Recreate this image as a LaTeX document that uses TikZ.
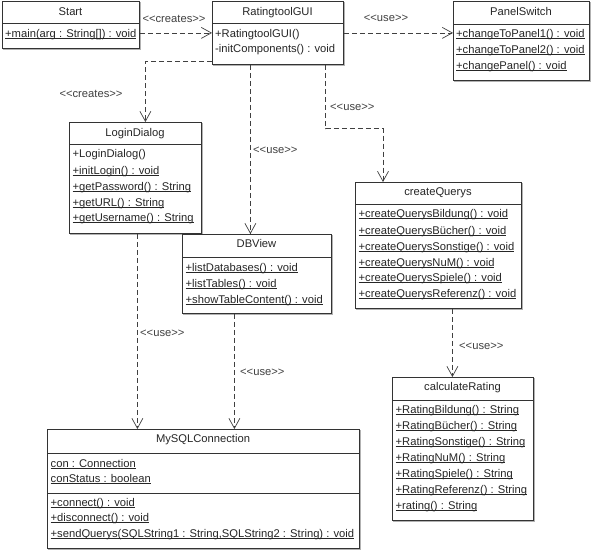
\documentclass[tikz,border=0pt]{standalone}
\usepackage{fontspec}
\setmainfont{Liberation Sans}[Ligatures=TeXOff]
\usetikzlibrary{arrows.meta,calc}
\newcommand\myul[1]{\setbox0\hbox{#1}\rlap{\rule[-1.8pt]{\wd0}{0.6pt}}\box0}
\begin{document}
\begin{tikzpicture}[x=1pt,y=-1pt,
  box/.style={draw=black!80, line width=0.8pt, fill=white, inner sep=0pt, anchor=north west},
  shad/.style={draw=black!30, line width=0.8pt},
  div/.style={draw=black!80, line width=0.8pt},
  txt/.style={anchor=base west, inner sep=0pt, text=black!85, font=\fontsize{11.2}{13}\selectfont},
  ttl/.style={anchor=base, inner sep=0pt, text=black!85, font=\fontsize{11.2}{13}\selectfont},
  lbl/.style={anchor=base, inner sep=0pt, text=black!75, font=\fontsize{11.2}{13}\selectfont},
  lblw/.style={lbl, anchor=base west},
  dep/.style={draw=black!75, line width=0.7pt, dash pattern=on 5pt off 3pt, -{Straight Barb[length=10pt,width=11pt]}}]
\useasboundingbox[fill=white] (0,0) rectangle (595,552);

% shadows
\draw[shad] (3,49) -- (140,49) -- (140,2);
\draw[shad] (213,65) -- (344,65) -- (344,2);
\draw[shad] (454,81) -- (590,81) -- (590,2);
\draw[shad] (70,234) -- (202,234) -- (202,123);
\draw[shad] (183,314) -- (332,314) -- (332,235);
\draw[shad] (356,309) -- (522,309) -- (522,183);
\draw[shad] (393,521) -- (534,521) -- (534,378);
\draw[shad] (48,549) -- (360,549) -- (360,430);

% boxes
\node[box, minimum width=137pt, minimum height=47pt] (start) at (2,1) {};
\node[box, minimum width=131pt, minimum height=63pt] (gui) at (212,1) {};
\node[box, minimum width=136pt, minimum height=79pt] (panel) at (453,1) {};
\node[box, minimum width=132pt, minimum height=111pt] (login) at (69,122) {};
\node[box, minimum width=149pt, minimum height=79pt] (dbview) at (182,234) {};
\node[box, minimum width=166pt, minimum height=126pt] (cq) at (355,182) {};
\node[box, minimum width=141pt, minimum height=143pt] (calc) at (392,377) {};
\node[box, minimum width=312pt, minimum height=119pt] (mysql) at (47,429) {};

% dividers
\draw[div] ($(start.north west)+(0,22)$) -- ($(start.north east)+(0,22)$);
\draw[div] ($(gui.north west)+(0,22)$) -- ($(gui.north east)+(0,22)$);
\draw[div] ($(panel.north west)+(0,23)$) -- ($(panel.north east)+(0,23)$);
\draw[div] ($(login.north west)+(0,22)$) -- ($(login.north east)+(0,22)$);
\draw[div] ($(dbview.north west)+(0,23)$) -- ($(dbview.north east)+(0,23)$);
\draw[div] ($(cq.north west)+(0,22)$) -- ($(cq.north east)+(0,22)$);
\draw[div] ($(calc.north west)+(0,23)$) -- ($(calc.north east)+(0,23)$);
\draw[div] ($(mysql.north west)+(0,24)$) -- ($(mysql.north east)+(0,24)$);
\draw[div] ($(mysql.north west)+(0,64)$) -- ($(mysql.north east)+(0,64)$);

% Start
\node[ttl] (start-t) at (70.5,15) {Start};
\node[txt] (start-1) at (5,37) {\myul{+main(arg : String[]) : void}};
% RatingtoolGUI
\node[ttl] (gui-t) at (277.5,15) {RatingtoolGUI};
\node[txt] (gui-1) at (215,37) {+RatingtoolGUI()};
\node[txt] (gui-2) at (215,52) {-initComponents() : void};
% PanelSwitch
\node[ttl] (panel-t) at (521,15) {PanelSwitch};
\node[txt] (panel-1) at (456,37) {\myul{+changeToPanel1() : void}};
\node[txt] (panel-2) at (456,53) {\myul{+changeToPanel2() : void}};
\node[txt] (panel-3) at (456,69) {\myul{+changePanel() : void}};
% LoginDialog
\node[ttl] (login-t) at (135,136) {LoginDialog};
\node[txt] (login-1) at (72.5,157) {+LoginDialog()};
\node[txt] (login-2) at (72.5,174) {\myul{+initLogin() : void}};
\node[txt] (login-3) at (72.5,190) {\myul{+getPassword() : String}};
\node[txt] (login-4) at (72.5,206) {\myul{+getURL() : String}};
\node[txt] (login-5) at (72.5,221) {\myul{+getUsername() : String}};
% DBView
\node[ttl] (db-t) at (256.5,247) {DBView};
\node[txt] (db-1) at (185.5,271) {\myul{+listDatabases() : void}};
\node[txt] (db-2) at (185.5,287) {\myul{+listTables() : void}};
\node[txt] (db-3) at (185.5,303) {\myul{+showTableContent() : void}};
% createQuerys
\node[ttl] (cq-t) at (438,195) {createQuerys};
\node[txt] (cq-1) at (358.5,217) {\myul{+createQuerysBildung() : void}};
\node[txt] (cq-2) at (358.5,234) {\myul{+createQuerysBücher() : void}};
\node[txt] (cq-3) at (358.5,250) {\myul{+createQuerysSonstige() : void}};
\node[txt] (cq-4) at (358.5,266) {\myul{+createQuerysNuM() : void}};
\node[txt] (cq-5) at (358.5,281) {\myul{+createQuerysSpiele() : void}};
\node[txt] (cq-6) at (358.5,297) {\myul{+createQuerysReferenz() : void}};
% calculateRating
\node[ttl] (calc-t) at (462.5,390) {calculateRating};
\node[txt] (calc-1) at (395.5,413) {\myul{+RatingBildung() : String}};
\node[txt] (calc-2) at (395.5,429) {\myul{+RatingBücher() : String}};
\node[txt] (calc-3) at (395.5,445) {\myul{+RatingSonstige() : String}};
\node[txt] (calc-4) at (395.5,461) {\myul{+RatingNuM() : String}};
\node[txt] (calc-5) at (395.5,477) {\myul{+RatingSpiele() : String}};
\node[txt] (calc-6) at (395.5,493) {\myul{+RatingReferenz() : String}};
\node[txt] (calc-7) at (395.5,509) {\myul{+rating() : String}};
% MySQLConnection
\node[ttl] (my-t) at (203,442) {MySQLConnection};
\node[txt] (my-a1) at (50.5,467) {\myul{con : Connection}};
\node[txt] (my-a2) at (50.5,482) {\myul{conStatus : boolean}};
\node[txt] (my-1) at (50.5,506) {\myul{+connect() : void}};
\node[txt] (my-2) at (50.5,521) {\myul{+disconnect() : void}};
\node[txt] (my-3) at (50.5,537) {\myul{+sendQuerys(SQLString1 : String,SQLString2 : String) : void}};

% connectors
\draw[dep] (start.east |- gui.west) -- (gui.west);
\draw[dep] (gui.east) -- (gui.east -| panel.west);
\coordinate (c1) at ($(gui.south west)+(0,-3)$);
\coordinate (e1) at ($(login.north)+(10,0)$);
\draw[dep] (c1) -| (e1);
\coordinate (e2) at ($(dbview.north)+(-6.5,0)$);
\draw[dep] (e2 |- gui.south) -- (e2);
\coordinate (c2) at ($(gui.south east)+(-18,0)$);
\coordinate (b2) at ($(c2)+(0,64)$);
\coordinate (e3) at ($(cq.north west)+(28,0)$);
\draw[dep] (c2) -- (b2) -| (e3);
\coordinate (e4) at ($(calc.north)+(-10.5,0)$);
\draw[dep] (e4 |- cq.south) -- (e4);
\coordinate (s5) at ($(login.south)+(2,0)$);
\draw[dep] (s5) -- (s5 |- mysql.north);
\coordinate (s6) at ($(dbview.south)+(-22.5,0)$);
\draw[dep] (s6) -- (s6 |- mysql.north);

% labels
\node[lbl] (l1) at (174,22) {<<creates>>};
\node[lbl] (l2) at (386,21) {<<use>>};
\node[lbl] (l3) at (91,97) {<<creates>>};
\node[lblw] (l4) at (253,153) {<<use>>};
\node[lblw] (l5) at (330,110) {<<use>>};
\node[lblw] (l6) at (140,336) {<<use>>};
\node[lblw] (l7) at (240,375) {<<use>>};
\node[lblw] (l8) at (459,349) {<<use>>};
\end{tikzpicture}
\end{document}
